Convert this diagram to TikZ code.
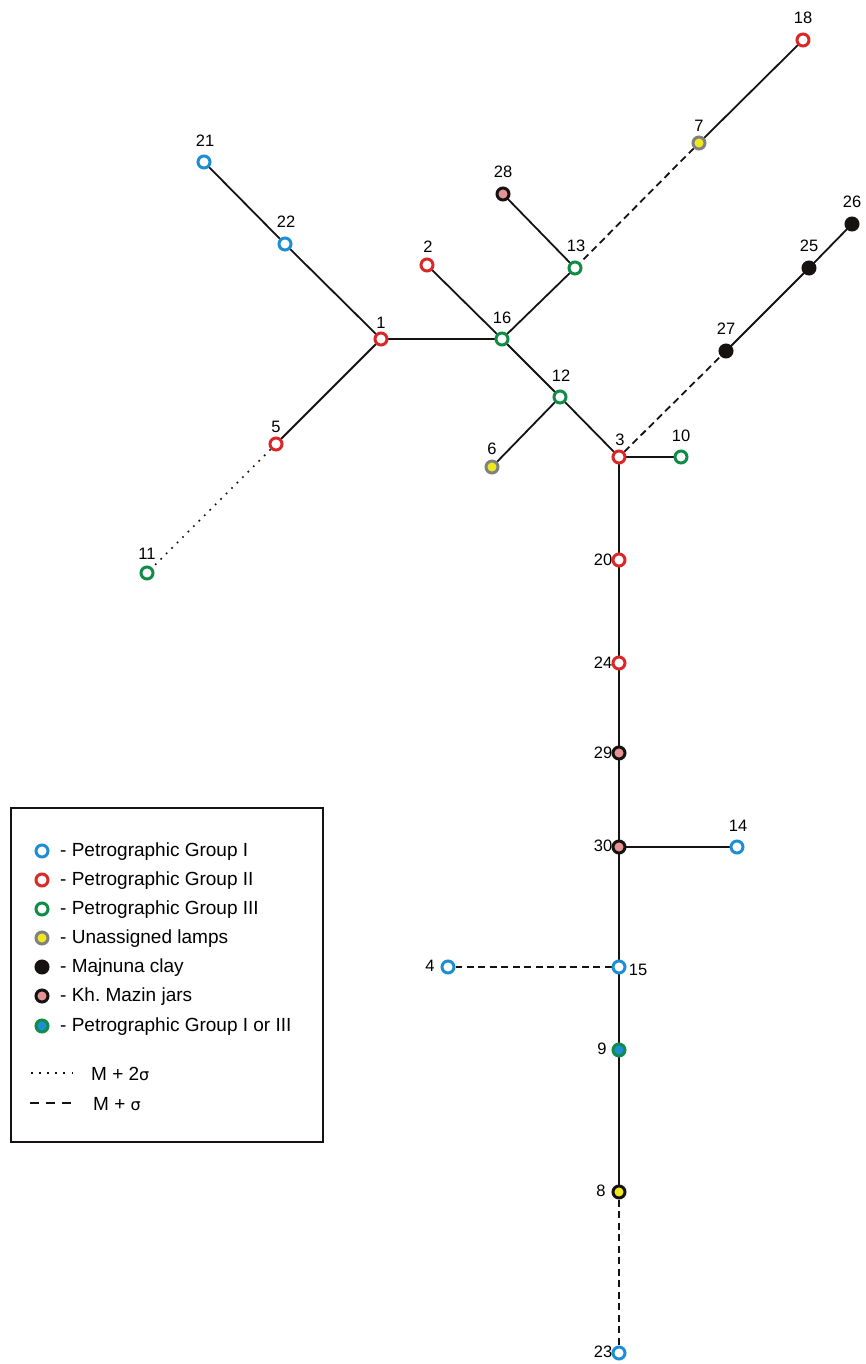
\documentclass[tikz,border=0pt]{standalone}
\usepackage{fontspec}
\setmainfont{Liberation Sans}
\newfontfamily\symfont{DejaVu Sans}
\pgfdeclarelayer{edgelayer}
\pgfsetlayers{edgelayer,main}
\begin{document}
\begin{tikzpicture}[x=1pt,y=-1pt,
  lab/.style={font=\fontsize{16.5}{16.5}\selectfont, inner sep=1pt},
  nd/.style={circle, minimum size=12pt, inner sep=0pt, line width=3pt},
  gI/.style={nd, draw=cBlue, fill=white},
  gII/.style={nd, draw=cRed, fill=white},
  gIII/.style={nd, draw=cGreen, fill=white},
  una/.style={nd, draw=cGray, fill=cYellow},
  maj/.style={nd, draw=cBlack, fill=cBlack},
  kh/.style={nd, draw=cBlack, fill=cPink},
  gIorIII/.style={nd, draw=cGreen, fill=cBlue},
  lampblk/.style={nd, draw=cBlack, fill=cYellow},
  edge/.style={line width=1.8pt, draw=cBlack},
  dsh/.style={edge, dash pattern=on 7pt off 4.5pt},
  dot/.style={edge, line width=1.7pt, dash pattern=on 1.7pt off 6pt},
  legdsh/.style={edge, dash pattern=on 9pt off 7pt},
  leg/.style={font=\fontsize{19}{19}\selectfont, anchor=west, inner sep=0pt}
]
\definecolor{cBlue}{RGB}{30,142,212}
\definecolor{cRed}{RGB}{218,40,40}
\definecolor{cGreen}{RGB}{16,140,72}
\definecolor{cGray}{RGB}{128,128,128}
\definecolor{cYellow}{RGB}{240,232,30}
\definecolor{cPink}{RGB}{228,148,150}
\definecolor{cBlack}{RGB}{22,18,18}
\useasboundingbox (0,0) rectangle (866,1364);

% nodes
\node[gII] (n18) at (803,40) {};
\node[una] (n7) at (699,143) {};
\node[maj] (n26) at (852,224) {};
\node[maj] (n25) at (809,268) {};
\node[maj] (n27) at (726,351) {};
\node[gI] (n21) at (204,162) {};
\node[gI] (n22) at (285,244) {};
\node[kh] (n28) at (503,194) {};
\node[gIII] (n13) at (575,268) {};
\node[gII] (n2) at (427,265) {};
\node[gII] (n1) at (381,339) {};
\node[gIII] (n16) at (502,339) {};
\node[gIII] (n12) at (560,397) {};
\node[gII] (n5) at (276,444) {};
\node[una] (n6) at (492,467) {};
\node[gII] (n3) at (619,457) {};
\node[gIII] (n10) at (681,457) {};
\node[gIII] (n11) at (147,573) {};
\node[gII] (n20) at (619,560) {};
\node[gII] (n24) at (619,663) {};
\node[kh] (n29) at (619,753) {};
\node[kh] (n30) at (619,847) {};
\node[gI] (n14) at (737,847) {};
\node[gI] (n4) at (448,967) {};
\node[gI] (n15) at (619,967) {};
\node[gIorIII] (n9) at (619,1050) {};
\node[lampblk] (n8) at (619,1192) {};
\node[gI] (n23) at (619,1353) {};

% edges (under the nodes)
\begin{pgfonlayer}{edgelayer}
\draw[edge] (n18.center) -- (n7.center);
\draw[dsh] (n7) -- (n13);
\draw[edge] (n28.center) -- (n13.center);
\draw[edge] (n13.center) -- (n16.center);
\draw[edge] (n21.center) -- (n22.center);
\draw[edge] (n22.center) -- (n1.center);
\draw[edge] (n2.center) -- (n16.center);
\draw[edge] (n1.center) -- (n16.center);
\draw[edge] (n1.center) -- (n5.center);
\draw[dot] (n5) -- (n11);
\draw[edge] (n16.center) -- (n12.center);
\draw[edge] (n12.center) -- (n3.center);
\draw[edge] (n12.center) -- (n6.center);
\draw[dsh] (n3) -- (n27);
\draw[edge] (n27.center) -- (n25.center);
\draw[edge] (n25.center) -- (n26.center);
\draw[edge] (n3.center) -- (n10.center);
\draw[edge] (n3.center) -- (n20.center);
\draw[edge] (n20.center) -- (n24.center);
\draw[edge] (n24.center) -- (n29.center);
\draw[edge] (n29.center) -- (n30.center);
\draw[edge] (n30.center) -- (n14.center);
\draw[edge] (n30.center) -- (n15.center);
\draw[dsh] (n15) -- (n4);
\draw[edge] (n15.center) -- (n9.center);
\draw[edge] (n9.center) -- (n8.center);
\draw[dsh] (n8) -- (n23);
\end{pgfonlayer}

% labels
\node[lab] (l18) at (803,18) {18};
\node[lab] (l7) at (699,126) {7};
\node[lab] (l26) at (852,202) {26};
\node[lab] (l25) at (809,246) {25};
\node[lab] (l27) at (726,329) {27};
\node[lab] (l21) at (205,141) {21};
\node[lab] (l22) at (286,222) {22};
\node[lab] (l28) at (503,172) {28};
\node[lab] (l13) at (576,246) {13};
\node[lab] (l2) at (428,247) {2};
\node[lab] (l1) at (381,323) {1};
\node[lab] (l16) at (502,318) {16};
\node[lab] (l12) at (561,376) {12};
\node[lab] (l5) at (276,427) {5};
\node[lab] (l6) at (492,449) {6};
\node[lab] (l3) at (620,440) {3};
\node[lab] (l10) at (681,436) {10};
\node[lab] (l11) at (147,554) {11};
\node[lab] (l20) at (603,560) {20};
\node[lab] (l24) at (603,663) {24};
\node[lab] (l29) at (603,753) {29};
\node[lab] (l30) at (603,846) {30};
\node[lab] (l14) at (738,826) {14};
\node[lab] (l4) at (430,966) {4};
\node[lab] (l15) at (638,970) {15};
\node[lab] (l9) at (602,1049) {9};
\node[lab] (l8) at (601,1191) {8};
\node[lab] (l23) at (603,1352) {23};

% legend
\node[draw=cBlack, line width=2.2pt, minimum width=312pt, minimum height=334pt, anchor=north west, inner sep=0pt] (legbox) at (10,807) {};
\node[gI] (k1) at (42,851) {};
\node[leg] (t1) at (60,852) {- Petrographic Group I};
\node[gII] (k2) at (42,880) {};
\node[leg] (t2) at (60,881) {- Petrographic Group II};
\node[gIII] (k3) at (42,909) {};
\node[leg] (t3) at (60,910) {- Petrographic Group III};
\node[una] (k4) at (42,938) {};
\node[leg] (t4) at (60,939) {- Unassigned lamps};
\node[maj] (k5) at (42,967) {};
\node[leg] (t5) at (60,968) {- Majnuna clay};
\node[kh] (k6) at (42,996) {};
\node[leg] (t6) at (60,997) {- Kh.\ Mazin jars};
\node[gIorIII] (k7) at (42,1026) {};
\node[leg] (t7) at (60,1027) {- Petrographic Group I or III};
\coordinate (d1a) at (31,1073);
\coordinate (d1b) at (73,1073);
\draw[dot, dash pattern=on 1.7pt off 6.4pt] (d1a) -- (d1b);
\node[leg] (t8) at (91,1074) {M + 2{\symfont\fontsize{16}{16}\selectfont σ}};
\coordinate (d2a) at (30,1103);
\coordinate (d2b) at (72,1103);
\draw[legdsh] (d2a) -- (d2b);
\node[leg] (t9) at (93,1104) {M + {\symfont\fontsize{16}{16}\selectfont σ}};
\end{tikzpicture}
\end{document}
